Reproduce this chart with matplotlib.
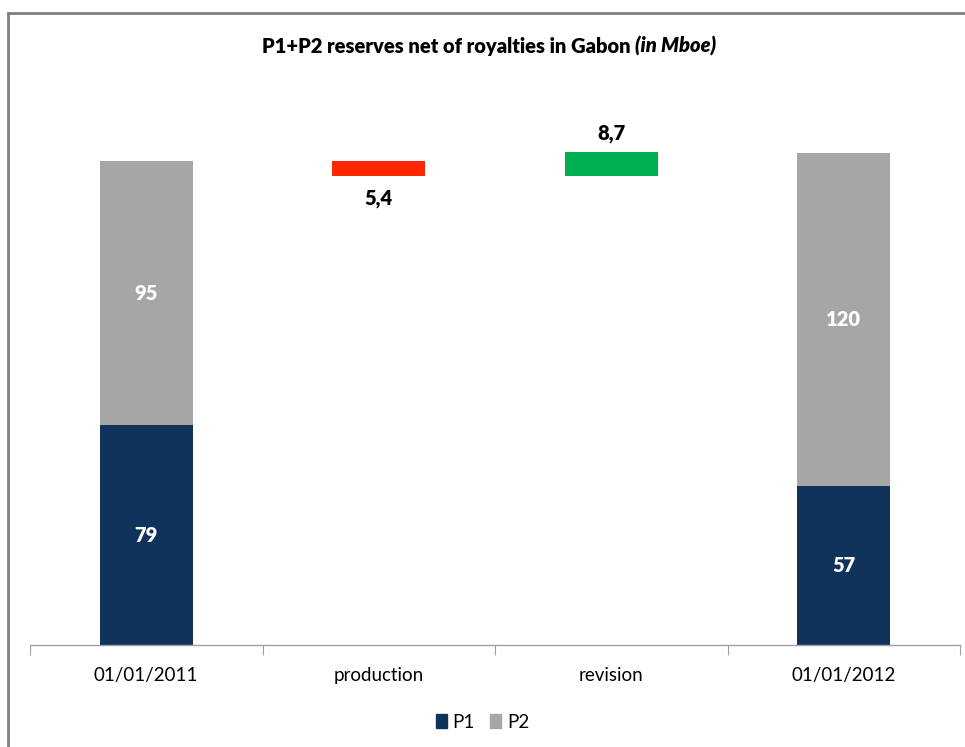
import matplotlib.pyplot as plt
from matplotlib.patches import Patch
from matplotlib.lines import Line2D

plt.rcParams['font.family'] = ['Lato', 'DejaVu Sans']

# data
categories = ["01/01/2011", "production", "revision", "01/01/2012"]
p1_start, p2_start = 79, 95
production = -5.4
revision = 8.7
p1_end, p2_end = 57, 120

C_P1 = "#10335B"
C_P2 = "#A6A6A6"
C_DOWN = "#FF2700"
C_UP = "#00B050"

fig = plt.figure(figsize=(9.65, 7.47), dpi=100)
ax = fig.add_axes([30 / 965, 102 / 747, 930 / 965, 556.3 / 747])

w = 0.4
x = range(len(categories))

# start and end stacks
ax.bar(0, p1_start, width=w, color=C_P1)
ax.bar(0, p2_start, width=w, bottom=p1_start, color=C_P2)
ax.bar(3, p1_end, width=w, color=C_P1)
ax.bar(3, p2_end, width=w, bottom=p1_end, color=C_P2)

# floating waterfall bars
total0 = p1_start + p2_start
after_prod = total0 + production
ax.bar(1, -production, width=w, bottom=after_prod, color=C_DOWN)
ax.bar(2, revision, width=w, bottom=after_prod, color=C_UP)

lab = dict(ha="center", va="center", fontsize=14.5, fontweight="heavy")
ax.text(0, p1_start / 2, f"{p1_start}", color="white", **lab)
ax.text(0, p1_start + p2_start / 2, f"{p2_start}", color="white", **lab)
ax.text(3, p1_end / 2, f"{p1_end}", color="white", **lab)
ax.text(3, p1_end + p2_end / 2, f"{p2_end}", color="white", **lab)
ax.text(1, after_prod - 8, f"{-production:.1f}".replace(".", ","), color="black", **lab)
ax.text(2, after_prod + revision + 6.5, f"{revision:.1f}".replace(".", ","), color="black", **lab)

ax.set_xlim(-0.5, 3.5)
ax.set_ylim(0, 200)
ax.set_yticks([])
for s in ["top", "right", "left"]:
    ax.spines[s].set_visible(False)
ax.spines["bottom"].set_color("#A0A0A0")
ax.spines["bottom"].set_linewidth(1)
ax.set_xticks([-0.5, 0.5, 1.5, 2.5, 3.5])
ax.set_xticklabels([])
ax.set_xticks(list(x), minor=True)
ax.set_xticklabels(categories, minor=True, fontsize=13.5)
ax.tick_params(axis="x", which="major", length=7, color="#A0A0A0")
ax.tick_params(axis="x", which="minor", length=0, pad=16)

t1 = fig.text(262 / 965, 1 - 46 / 747, "P1+P2 reserves net of royalties in Gabon ",
              ha="left", va="center", fontsize=14.5, fontweight="heavy")
fig.canvas.draw()
bb = t1.get_window_extent()
fig.text(bb.x1 / 965, 1 - 46 / 747, "(in Mboe)", ha="left", va="center",
         fontsize=14.5, fontweight="heavy", style="italic")

handles = [Patch(color=C_P1, label="P1"), Patch(color=C_P2, label="P2")]
fig.legend(handles=handles, loc="center", bbox_to_anchor=(0.5, 1 - 722 / 747), ncol=2,
           frameon=False, fontsize=13.5, handlelength=0.6, handleheight=0.75,
           handletextpad=0.3, columnspacing=0.8)

# chart border (left and top visible)
fig.add_artist(Line2D([7.5 / 965, 7.5 / 965], [0, 1 - 12.5 / 747], color="#808080", lw=2))
fig.add_artist(Line2D([7.5 / 965, 1], [1 - 12.5 / 747, 1 - 12.5 / 747], color="#808080", lw=2))

fig.savefig("out.png", dpi=100)
